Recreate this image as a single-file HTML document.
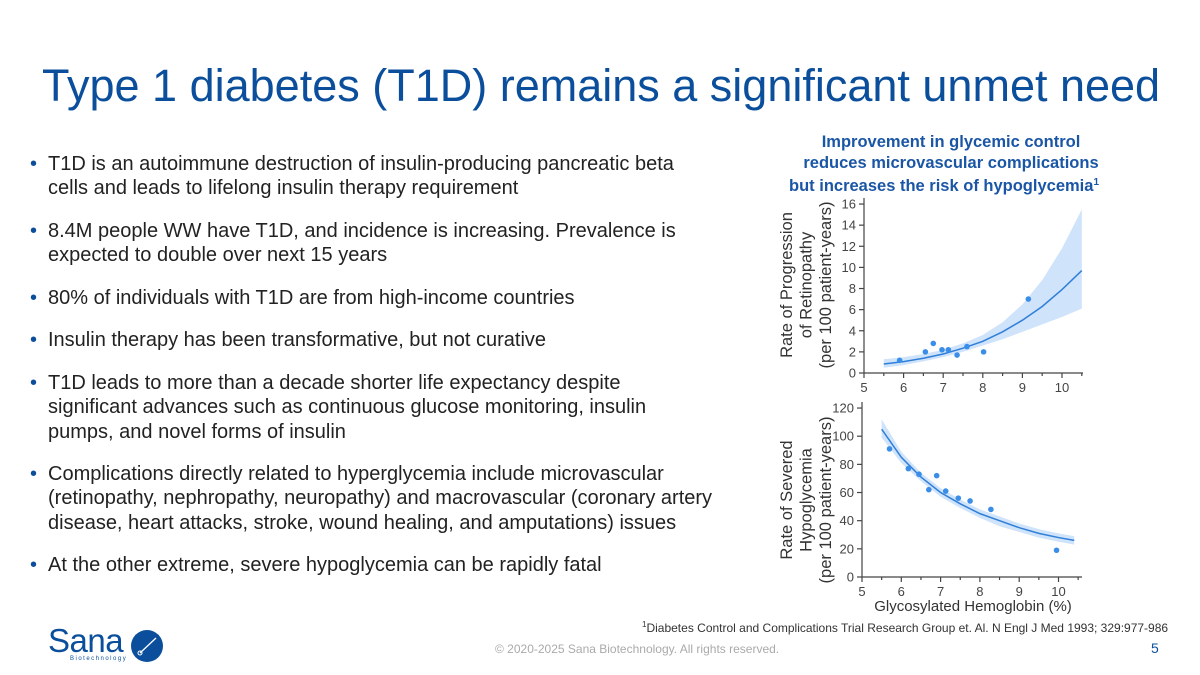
<!DOCTYPE html>
<html><head><meta charset="utf-8"><style>
body{margin:0;width:1200px;height:675px;background:#fff;position:relative;overflow:hidden;font-family:"Liberation Sans",Arial,sans-serif}
.t{position:absolute;left:42px;top:60px;font-size:45px;color:#0b4f9c;white-space:nowrap}
ul{position:absolute;left:30px;top:152px;margin:0;padding:0;list-style:none;width:683px}
li{position:relative;padding-left:18px;font-size:20px;line-height:24.3px;color:#222;margin-bottom:18.3px}
li:before{content:"•";position:absolute;left:0;color:#0b4f9c}
.ft{position:absolute;font-size:12px;color:#333}
</style></head><body>
<div class="t">Type 1 diabetes (T1D) remains a significant unmet need</div>
<ul>
<li>T1D is an autoimmune destruction of insulin-producing pancreatic beta cells and leads to lifelong insulin therapy requirement</li>
<li>8.4M people WW have T1D, and incidence is increasing. Prevalence is expected to double over next 15 years</li>
<li>80% of individuals with T1D are from high-income countries</li>
<li>Insulin therapy has been transformative, but not curative</li>
<li>T1D leads to more than a decade shorter life expectancy despite<br>significant advances such as continuous glucose monitoring, insulin pumps, and novel forms of insulin</li>
<li>Complications directly related to hyperglycemia include microvascular (retinopathy, nephropathy, neuropathy) and macrovascular (coronary artery disease, heart attacks, stroke, wound healing, and amputations) issues</li>
<li>At the other extreme, severe hypoglycemia can be rapidly fatal</li>
</ul>
<div class="ft" style="left:642px;top:620px"><sup style="font-size:8px">1</sup>Diabetes Control and Complications Trial Research Group et. Al. N Engl J Med 1993; 329:977-986</div>
<div class="ft" style="left:495px;top:642px;color:#aaa">© 2020-2025 Sana Biotechnology. All rights reserved.</div>
<div class="ft" style="left:1151px;top:640px;font-size:14px;color:#0b4f9c">5</div>
<div style="position:absolute;left:48px;top:626px;width:120px;height:40px">
<div style="font-size:33px;color:#0b4f9c;line-height:30px;letter-spacing:-0.5px">Sana</div>
<div style="font-size:6px;color:#0b4f9c;letter-spacing:1.5px;margin-left:22px">Biotechnology</div>
<svg style="position:absolute;left:82px;top:3px" width="34" height="34"><circle cx="17" cy="17" r="16" fill="#0b4f9c"/><line x1="10" y1="24" x2="26" y2="9" stroke="#fff" stroke-width="1.3"/><circle cx="10" cy="24" r="2" fill="none" stroke="#fff"/></svg>
</div>
<svg id="ch" width="1200" height="675" style="position:absolute;left:0;top:0">
<g font-weight="bold" fill="#1a56a5" font-size="16.5" text-anchor="middle">
<text x="951" y="147">Improvement in glycemic control</text>
<text x="951" y="168">reduces microvascular complications</text>
<text x="944" y="191">but increases the risk of hypoglycemia<tspan font-size="10" dy="-6">1</tspan></text>
</g>
</svg>
<script>
const retX=[5.9,6.55,6.75,6.97,7.13,7.35,7.6,8.02,9.15];
const retY=[1.2,2.0,2.8,2.2,2.2,1.7,2.5,2.0,7.0];
const retFitX=[5.5,6,6.5,7,7.5,8,8.5,9,9.5,10,10.5];
const retFit=[0.85,1.08,1.4,1.8,2.35,3.0,3.9,5.0,6.3,7.9,9.7];
const retLo=[0.5,0.75,1.1,1.5,2.0,2.6,3.2,3.9,4.6,5.3,6.1];
const retHi=[1.3,1.5,1.8,2.2,2.8,3.6,4.8,6.5,8.8,11.8,15.5];
const retYTicks=[0,2,4,6,8,10,12,14,16];
const hypX=[5.7,6.18,6.45,6.7,6.9,7.13,7.45,7.75,8.28,9.95];
const hypY=[91,77,73,62,72,61,56,54,48,19];
const hypFitX=[5.5,6,6.5,7,7.5,8,8.5,9,9.5,10,10.4];
const hypFit=[105,85,71,60,52,45,40,35,31,28,26];
const hypLo=[99,81,68,57,49,42,36,32,28,25,23];
const hypHi=[112,89,74,63,55,48,43,38,34,31,29];
const hypYTicks=[0,20,40,60,80,100,120];
const xTicks=[5,6,7,8,9,10];
const NS='http://www.w3.org/2000/svg';
const svg=document.getElementById('ch');
function el(t,a,p){const e=document.createElementNS(NS,t);for(const k in a)e.setAttribute(k,a[k]);(p||svg).appendChild(e);return e;}
function chart(o){
 const sx=v=>o.x0+(v-5)*o.kx, sy=v=>o.y0-v*o.ky;
 const g=el('g',{});
 
 
 let band='M'+o.fx.map((x,i)=>sx(x)+','+sy(o.hi[i])).join('L')+'L'+o.fx.map((x,i)=>sx(x)+','+sy(o.lo[i])).reverse().join('L')+'Z';
 const b=el('path',{d:band,fill:'#cfe3fb',stroke:'none'},g);
 
 
 const l=el('path',{d:'M'+o.fx.map((x,i)=>sx(x)+','+sy(o.fit[i])).join('L'),fill:'none',stroke:'#2f7fd8','stroke-width':1.5},g);
 
 
 o.px.forEach((x,i)=>{const c=el('circle',{cx:sx(x),cy:sy(o.py[i]),r:2.8,fill:'#3b8ee8'},g);
  
  });
 const ax=el('g',{stroke:'#444','stroke-width':1.2},g);
 el('line',{x1:o.x0,y1:o.y0,x2:o.xEnd,y2:o.y0},ax);
 el('line',{x1:o.x0,y1:o.y0,x2:o.x0,y2:sy(o.yt[o.yt.length-1])-6},ax);
 for(let v=5;v<=10.5;v+=0.5){el('line',{x1:sx(v),y1:o.y0,x2:sx(v),y2:o.y0+(v%1?3:5)},ax);}
 xTicks.forEach(v=>{const t=el('text',{x:sx(v),y:o.y0+19,'font-size':13,fill:'#444','text-anchor':'middle'},g);t.textContent=v;
  
  });
 o.yt.forEach(v=>{el('line',{x1:o.x0-5,y1:sy(v),x2:o.x0,y2:sy(v)},ax);
  const t=el('text',{x:o.x0-8,y:sy(v)+4.5,'font-size':13,fill:'#444','text-anchor':'end'},g);t.textContent=v;
  
  });
 o.ylab.forEach((s,i)=>{const cx=792+i*19.5;const t=el('text',{x:cx,y:o.ymid,'font-size':16.5,fill:'#333','text-anchor':'middle',transform:`rotate(-90 ${cx} ${o.ymid})`},g);t.textContent=s;
  
  });
}
chart({name:'retinopathy-chart',x0:864,kx:39.6,y0:373,ky:10.56,xEnd:1083,fx:retFitX,fit:retFit,lo:retLo,hi:retHi,px:retX,py:retY,yt:retYTicks,ymid:285,ylab:['Rate of Progression','of Retinopathy','(per 100 patient-years)']});
chart({name:'hypoglycemia-chart',x0:862,kx:39.3,y0:577,ky:1.408,xEnd:1082,fx:hypFitX,fit:hypFit,lo:hypLo,hi:hypHi,px:hypX,py:hypY,yt:hypYTicks,ymid:500,ylab:['Rate of Severed','Hypoglycemia','(per 100 patient-years)']});
const xl=el('text',{x:973,y:611,'font-size':15,fill:'#333','text-anchor':'middle'});xl.textContent='Glycosylated Hemoglobin (%)';


</script>
</body></html>
